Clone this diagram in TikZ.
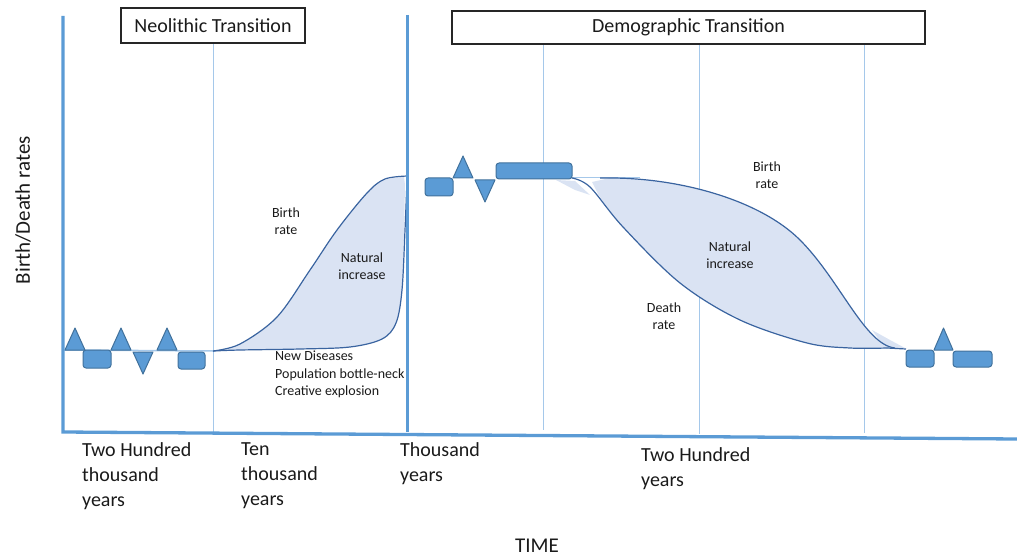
\documentclass[tikz,border=0pt]{standalone}
\usepackage{fontspec}
\setmainfont{Carlito}
\definecolor{axisblue}{HTML}{5B9BD5}
\definecolor{thinblue}{HTML}{A5C8EA}
\definecolor{curveblue}{HTML}{3A64A0}
\definecolor{fillblue}{HTML}{DAE3F3}
\definecolor{symedge}{HTML}{41719C}
\definecolor{textcol}{HTML}{1A1A1A}
\begin{document}
\begin{tikzpicture}[x=1pt,y=-1pt,
  axisline/.style={axisblue, line width=3.3pt},
  gridline/.style={thinblue, line width=1pt},
  curveline/.style={curveblue, line width=1.2pt, line join=round},
  areafill/.style={fillblue},
  sym/.style={fill=axisblue, draw=symedge, line width=1pt, line join=round},
  rbox/.style={sym, rounded corners=3pt},
  titlebox/.style={draw=black!85, fill=white, line width=1.3pt, inner sep=0pt, text=textcol,
    font=\fontsize{20}{24}\selectfont},
  biglabel/.style={font=\fontsize{20}{25}\selectfont, align=left, anchor=north west, inner sep=0pt, text=textcol},
  smalllabel/.style={font=\fontsize{14}{17.5}\selectfont, align=center, inner sep=0pt, text=textcol},
]
\useasboundingbox (0,0) rectangle (1017,556);

% thin grid lines
\coordinate (g1t) at (213,43); \coordinate (g1b) at (213,432);
\coordinate (g2t) at (543,44); \coordinate (g2b) at (543,430);
\coordinate (g3t) at (699,44); \coordinate (g3b) at (699,434);
\coordinate (g4t) at (864,44); \coordinate (g4b) at (864,433);
\draw[gridline] (g1t) -- (g1b);
\draw[gridline] (g2t) -- (g2b);
\draw[gridline] (g3t) -- (g3b);
\draw[gridline] (g4t) -- (g4b);

% Neolithic transition area
\fill[areafill] plot[smooth, tension=0.55] coordinates {(218,351) (240,344) (277,317) (310,270) (337,230) (367,193) (385,180) (404,177)}
  -- plot[smooth, tension=0.55] coordinates {(405,185) (404,230) (402,290) (396,323) (382,339) (350,347) (300,349) (240,350) (218,351)} -- cycle;
\draw[curveline] plot[smooth, tension=0.55] coordinates {(213,351) (240,344) (277,317) (310,270) (337,230) (367,193) (385,179) (408,176)};
\draw[curveline] plot[smooth, tension=0.55] coordinates {(213,351) (240,350) (300,349) (350,347) (382,339) (396,323) (402,290) (405,230) (407,180)};

% Demographic transition area
\fill[areafill] (556,180) -- (575,181) -- (590,195) -- (575,190) -- cycle;
\fill[areafill] (872,330) -- (890,340) -- (905,348) -- (885,348) -- cycle;
\fill[areafill] (592,182) -- (610,178) .. controls (680,178) and (760,200) .. (800,240)
  .. controls (840,280) and (865,345) .. (893,348)
  -- plot[smooth, tension=0.55] coordinates {(887,348) (850,348) (807,343) (740,320) (680,283) (623,227) (598,194)} -- cycle;
\draw[gridline] (572,178) -- (640,178);
\draw[curveline] (600,178) -- (610,178) .. controls (680,178) and (760,200) .. (800,240)
  .. controls (840,280) and (865,345) .. (895,348);
\draw[curveline] plot[smooth, tension=0.55] coordinates {(572,178) (590,187) (623,227) (680,283) (740,320) (807,343) (850,348) (887,348)};
\draw[curveline] (887,348) -- (906,349);

% baseline before Neolithic
\draw[thinblue, line width=1.5pt] (64,350) -- (213,351);

% left symbols
\draw[sym] (65,350) -- (75,328) -- (85,350) -- cycle;
\draw[rbox] (83,350) rectangle (111,368);
\draw[sym] (111,350) -- (121,328) -- (131,350) -- cycle;
\draw[sym] (133,352) -- (153,352) -- (143,374) -- cycle;
\draw[sym] (157,350) -- (167,328) -- (177,350) -- cycle;
\draw[rbox] (178,352) rectangle (205,369);

% middle symbols
\draw[rbox] (425,178) rectangle (453,196);
\draw[sym] (453,178) -- (463,156) -- (473,178) -- cycle;
\draw[sym] (475,180) -- (495,180) -- (485,202) -- cycle;
\draw[rbox] (496,163) rectangle (572,179);

% right symbols
\draw[rbox] (906,350) rectangle (934,367);
\draw[sym] (934,350) -- (943.5,328) -- (953,350) -- cycle;
\draw[rbox] (953,351) rectangle (992,367);

% axes
\coordinate (ytop) at (63,16);
\coordinate (origin) at (63,432);
\coordinate (xend) at (1017,439);
\coordinate (mtop) at (407,15);
\coordinate (mbot) at (407,432);
\draw[axisline] (ytop) -- (origin) -- (xend);
\draw[axisline, line width=3pt] (mtop) -- (mbot);

% titles
\node[titlebox, minimum width=184pt, minimum height=35pt] (neo) at (213,25.5) {Neolithic Transition};
\node[titlebox, minimum width=473pt, minimum height=33pt] (demo) at (688.5,27.5) {Demographic Transition};

% curve labels
\node[smalllabel] (br1) at (286,221) {Birth\\rate};
\node[smalllabel] (ni1) at (362,266) {Natural\\increase};
\node[smalllabel, align=left, anchor=north west] (events) at (275,351) {New Diseases\\Population bottle-neck\\Creative explosion};
\node[smalllabel] (br2) at (767,175) {Birth\\rate};
\node[smalllabel] (ni2) at (730,255) {Natural\\increase};
\node[smalllabel] (dr2) at (664,316) {Death\\rate};

% axis labels
\node[biglabel] (t1) at (82,442) {Two Hundred\\thousand\\years};
\node[biglabel] (t2) at (241,442) {Ten\\thousand\\years};
\node[biglabel] (t3) at (400,442) {Thousand\\years};
\node[biglabel] (t4) at (641,447) {Two Hundred\\years};
\node[font=\fontsize{21}{25}\selectfont, anchor=base, inner sep=0pt, text=textcol] (time) at (537,552) {TIME};
\node[font=\fontsize{21}{25}\selectfont, rotate=90, inner sep=0pt, text=textcol] (ylab) at (23,210) {Birth/Death rates};
\end{tikzpicture}
\end{document}
